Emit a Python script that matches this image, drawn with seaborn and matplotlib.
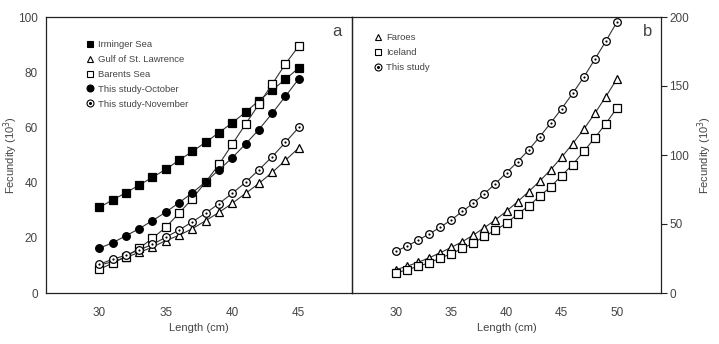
import numpy as np
import pandas as pd
import matplotlib
matplotlib.use('Agg')
import matplotlib.pyplot as plt
from matplotlib.lines import Line2D
import seaborn as sns

# Panel a: lengths 30-45 cm
length_a = list(range(30, 46))
irminger = [31.0, 33.7, 36.3, 39.1, 41.9, 44.8, 48.1, 51.3, 54.6, 58.1, 61.7, 65.5, 69.7, 73.6, 77.4, 81.6]
gulf = [10.1, 11.3, 12.9, 14.7, 16.6, 19.0, 20.9, 23.3, 26.2, 29.2, 32.5, 36.1, 39.7, 43.7, 48.1, 52.6]
barents = [8.6, 10.8, 13.2, 16.2, 19.8, 23.8, 28.9, 34.2, 40.2, 46.6, 53.9, 61.2, 68.4, 75.7, 83.0, 89.5]
october = [16.2, 18.2, 20.7, 23.3, 26.2, 29.3, 32.7, 36.3, 40.3, 44.6, 49.0, 54.0, 59.2, 65.1, 71.3, 77.6]
november = [10.4, 12.2, 13.7, 15.6, 17.6, 20.2, 22.8, 25.8, 28.9, 32.4, 36.1, 40.1, 44.6, 49.4, 54.6, 60.0]

# Panel b: lengths 30-50 cm
length_b = list(range(30, 51))
faroes = [17.0, 19.4, 22.3, 25.5, 29.2, 33.1, 37.2, 42.0, 47.4, 53.0, 59.3, 66.1, 73.4, 81.0, 89.3,
          98.5, 108.2, 118.7, 130.1, 142.3, 155.0]
iceland = [14.6, 16.8, 19.4, 21.9, 25.3, 28.5, 32.3, 36.2, 41.1, 45.5, 50.6, 57.2, 63.0, 70.1, 76.9,
           85.1, 93.1, 102.6, 112.4, 122.8, 134.0]
this_study = [30.4, 34.0, 38.4, 42.8, 47.7, 53.0, 59.1, 65.2, 72.0, 79.3, 87.1, 95.1, 103.6, 113.1,
              123.1, 133.6, 144.7, 156.4, 169.3, 182.5, 196.3]

sns.set_theme(style='white')
plt.rcParams['font.family'] = ['Liberation Sans Narrow', 'Liberation Sans', 'DejaVu Sans']

txt_col = '#444444'
line_col = '#333333'
ms = 5.5

fig = plt.figure(figsize=(7.19, 3.44), dpi=100)
ax1 = fig.add_axes([46 / 719, 51 / 344, 306 / 719, 276 / 344])
ax2 = fig.add_axes([352 / 719, 51 / 344, 309 / 719, 276 / 344])
ax2.patch.set_visible(False)


def draw(ax, x, y, marker, filled, dot=False):
    face = 'black' if filled else 'white'
    sns.lineplot(x=x, y=y, ax=ax, color=line_col, linewidth=0.8, marker=marker,
                 markersize=ms, markerfacecolor=face, markeredgecolor='black',
                 markeredgewidth=0.9)
    if dot:
        sns.scatterplot(x=x, y=y, ax=ax, color='black', s=2.5, linewidth=0, zorder=5)


draw(ax1, length_a, irminger, 's', True)
draw(ax1, length_a, gulf, '^', False)
draw(ax1, length_a, barents, 's', False)
draw(ax1, length_a, october, 'o', True)
draw(ax1, length_a, november, 'o', False, dot=True)

draw(ax2, length_b, faroes, '^', False)
draw(ax2, length_b, iceland, 's', False)
draw(ax2, length_b, this_study, 'o', False, dot=True)


def handle(marker, filled, dot=False):
    h = Line2D([], [], linestyle='none', marker=marker, markersize=5,
               markerfacecolor='black' if filled else 'white', markeredgecolor='black',
               markeredgewidth=0.8)
    if dot:
        d = Line2D([], [], linestyle='none', marker='o', markersize=1.2,
                   markerfacecolor='black', markeredgecolor='black')
        return (h, d)
    return h


leg_kw = dict(loc='upper left', frameon=False, fontsize=6.8, handlelength=0.8,
              handletextpad=0.45, labelspacing=0.62, borderaxespad=0)
ax1.legend([handle('s', True), handle('^', False), handle('s', False), handle('o', True),
            handle('o', False, True)],
           ['Irminger Sea', 'Gulf of St. Lawrence', 'Barents Sea', 'This study-October',
            'This study-November'], bbox_to_anchor=(0.12, 0.93), labelcolor=txt_col, **leg_kw)
ax2.legend([handle('^', False), handle('s', False), handle('o', False, True)],
           ['Faroes', 'Iceland', 'This study'], bbox_to_anchor=(0.06, 0.955),
           labelcolor=txt_col, **leg_kw)

ax1.set_xlim(26, 49)
ax1.set_ylim(0, 100)
ax1.set_xticks([30, 35, 40, 45])
ax1.set_yticks([0, 20, 40, 60, 80, 100])
ax2.set_xlim(26, 54)
ax2.set_ylim(0, 200)
ax2.set_xticks([30, 35, 40, 45, 50])
ax2.set_yticks([0, 50, 100, 150, 200])
ax2.yaxis.tick_right()
ax2.yaxis.set_label_position('right')

for ax in (ax1, ax2):
    for s in ax.spines.values():
        s.set_color('#222222')
        s.set_linewidth(0.9)
        s.set_visible(True)
    ax.tick_params(direction='out', length=4, width=0.8, colors='#222222',
                   labelcolor=txt_col, labelsize=8.5, pad=2)
    ax.tick_params(axis='x', pad=6)
    ax.set_xlabel('Length (cm)', fontsize=8, color=txt_col, labelpad=3)
    ax.set_ylabel('Fecundity (10$^3$)', fontsize=8, color=txt_col)
    ax.grid(False)

ax2.tick_params(axis='y', left=False, right=True)
ax2.yaxis.set_label_coords(1.11, 0.5)
ax2.yaxis.label.set_rotation(90)
ax1.yaxis.set_label_coords(-0.085, 0.5)

ax1.text(0.965, 0.975, 'a', transform=ax1.transAxes, ha='right', va='top', fontsize=12, color=txt_col)
ax2.text(0.97, 0.975, 'b', transform=ax2.transAxes, ha='right', va='top', fontsize=12, color=txt_col)

fig.savefig('out.png', dpi=100)
